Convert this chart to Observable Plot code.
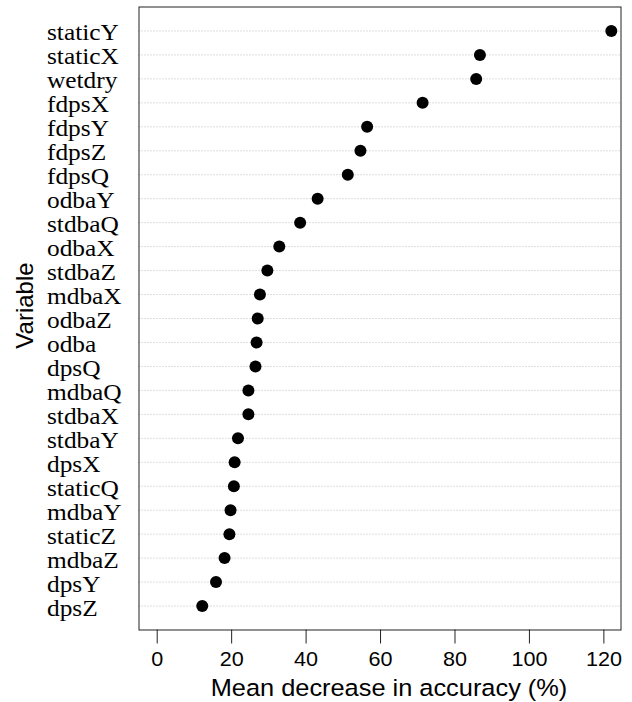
<!DOCTYPE html>
<html><head><meta charset="utf-8">
<script src="https://cdn.jsdelivr.net/npm/d3@7"></script>
<script src="https://cdn.jsdelivr.net/npm/@observablehq/plot@0.6"></script>
<style>body{margin:0;background:#fff}</style>
</head><body><div id="chart"></div>
<script>
const variables = ["staticY","staticX","wetdry","fdpsX","fdpsY","fdpsZ","fdpsQ","odbaY","stdbaQ","odbaX","stdbaZ","mdbaX","odbaZ","odba","dpsQ","mdbaQ","stdbaX","stdbaY","dpsX","staticQ","mdbaY","staticZ","mdbaZ","dpsY","dpsZ"];
const accuracy = [122.0,86.7,85.7,71.3,56.4,54.6,51.2,43.1,38.4,32.8,29.6,27.6,27.0,26.7,26.4,24.5,24.5,21.7,20.8,20.6,19.7,19.4,18.1,15.8,12.1];
const xTicks = [0,20,40,60,80,100,120];
const xTitle = "Mean decrease in accuracy (%)";
const yTitle = "Variable";
// rows are placed at positions 1..n on a 0..n+1 axis (as in R's dotchart)
const data = variables.map((v, i) => ({variable: v, row: i + 1, value: accuracy[i]}));

const plot = Plot.plot({
  width: 632, height: 702,
  marginLeft: 138.5, marginRight: 11.5, marginTop: 6.5, marginBottom: 72.5,
  style: {background: "#fff", color: "#000"},
  x: {domain: [-4.89, 124.6]},
  y: {domain: [0, variables.length + 1], reverse: true, axis: null},
  marks: [
    Plot.ruleY(data, {y: "row", stroke: "#bdbdbd", strokeDasharray: "1,2"}),
    Plot.frame({stroke: "#222"}),
    Plot.axisX(xTicks, {tickSize: 14, tickPadding: 8, fontSize: 20, fontFamily: "Liberation Sans", label: null, stroke: "#222", fill: "#000"}),
    Plot.text(data, {y: "row", text: "variable", frameAnchor: "left", textAnchor: "start", lineAnchor: "middle", dx: -92, dy: 2, fontFamily: "Liberation Serif", fontSize: 23.5, fill: "#000"}),
    Plot.dot(data, {x: "value", y: "row", r: 6, fill: "#000"}),
    Plot.text([xTitle], {frameAnchor: "bottom", textAnchor: "middle", lineAnchor: "middle", dx: 9, dy: 58.6, fontSize: 23.5, fontFamily: "Liberation Sans", fill: "#000"}),
    Plot.text([yTitle], {frameAnchor: "left", textAnchor: "middle", lineAnchor: "middle", dx: -114, dy: -13, rotate: -90, fontSize: 24, fontFamily: "Liberation Sans", fill: "#000"})
  ]
});
plot.querySelectorAll("text").forEach(t => {
  const tr = t.getAttribute("transform") || "";
  if (!tr.includes("rotate")) t.setAttribute("transform", (tr + " scale(1.08,1)").trim());
});
document.getElementById("chart").appendChild(plot);
</script>
</body></html>
